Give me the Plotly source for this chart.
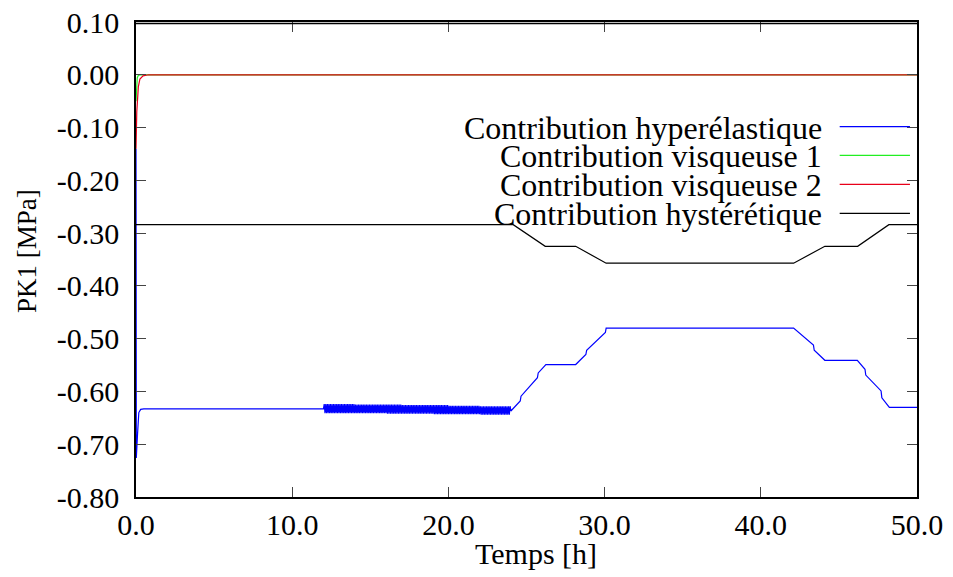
import plotly.graph_objects as go

# ---------------- data ----------------
hyper_t_start = [0.0, 0.02, 0.1, 0.18, 0.3, 0.5, 12.0]
hyper_y_start = [-0.14, -0.726, -0.68, -0.64, -0.634, -0.633, -0.633]

osc_t = [12.05, 12.10, 12.15, 12.20, 12.25, 12.30, 12.35, 12.40, 12.45, 12.50, 12.55, 12.60, 12.65, 12.70, 12.75, 12.80, 12.85, 12.90, 12.95, 13.00,
         13.05, 13.10, 13.15, 13.20, 13.25, 13.30, 13.35, 13.40, 13.45, 13.50, 13.55, 13.60, 13.65, 13.70, 13.75, 13.80, 13.85, 13.90, 13.95, 14.00,
         14.05, 14.10, 14.15, 14.20, 14.25, 14.30, 14.35, 14.40, 14.45, 14.50, 14.55, 14.60, 14.65, 14.70, 14.75, 14.80, 14.85, 14.90, 14.95, 15.00,
         15.05, 15.10, 15.15, 15.20, 15.25, 15.30, 15.35, 15.40, 15.45, 15.50, 15.55, 15.60, 15.65, 15.70, 15.75, 15.80, 15.85, 15.90, 15.95, 16.00,
         16.05, 16.10, 16.15, 16.20, 16.25, 16.30, 16.35, 16.40, 16.45, 16.50, 16.55, 16.60, 16.65, 16.70, 16.75, 16.80, 16.85, 16.90, 16.95, 17.00,
         17.05, 17.10, 17.15, 17.20, 17.25, 17.30, 17.35, 17.40, 17.45, 17.50, 17.55, 17.60, 17.65, 17.70, 17.75, 17.80, 17.85, 17.90, 17.95, 18.00,
         18.05, 18.10, 18.15, 18.20, 18.25, 18.30, 18.35, 18.40, 18.45, 18.50, 18.55, 18.60, 18.65, 18.70, 18.75, 18.80, 18.85, 18.90, 18.95, 19.00,
         19.05, 19.10, 19.15, 19.20, 19.25, 19.30, 19.35, 19.40, 19.45, 19.50, 19.55, 19.60, 19.65, 19.70, 19.75, 19.80, 19.85, 19.90, 19.95, 20.00,
         20.05, 20.10, 20.15, 20.20, 20.25, 20.30, 20.35, 20.40, 20.45, 20.50, 20.55, 20.60, 20.65, 20.70, 20.75, 20.80, 20.85, 20.90, 20.95, 21.00,
         21.05, 21.10, 21.15, 21.20, 21.25, 21.30, 21.35, 21.40, 21.45, 21.50, 21.55, 21.60, 21.65, 21.70, 21.75, 21.80, 21.85, 21.90, 21.95, 22.00,
         22.05, 22.10, 22.15, 22.20, 22.25, 22.30, 22.35, 22.40, 22.45, 22.50, 22.55, 22.60, 22.65, 22.70, 22.75, 22.80, 22.85, 22.90, 22.95, 23.00,
         23.05, 23.10, 23.15, 23.20, 23.25, 23.30, 23.35, 23.40, 23.45, 23.50, 23.55, 23.60, 23.65, 23.70, 23.75, 23.80, 23.85, 23.90, 23.95]
osc_y = [-0.624, -0.641, -0.624, -0.641, -0.624, -0.641, -0.624, -0.641, -0.624, -0.641, -0.624, -0.641, -0.624, -0.641, -0.624, -0.641, -0.624, -0.641, -0.624, -0.641,
         -0.624, -0.641, -0.624, -0.641, -0.624, -0.641, -0.624, -0.641, -0.624, -0.641, -0.624, -0.641, -0.624, -0.641, -0.624, -0.641, -0.624, -0.641, -0.624, -0.641,
         -0.625, -0.641, -0.625, -0.641, -0.625, -0.641, -0.625, -0.641, -0.625, -0.641, -0.625, -0.641, -0.625, -0.641, -0.625, -0.641, -0.625, -0.641, -0.625, -0.641,
         -0.625, -0.641, -0.625, -0.641, -0.625, -0.641, -0.625, -0.641, -0.625, -0.641, -0.625, -0.641, -0.625, -0.641, -0.625, -0.641, -0.625, -0.641, -0.625, -0.641,
         -0.625, -0.642, -0.625, -0.642, -0.625, -0.642, -0.625, -0.642, -0.625, -0.642, -0.625, -0.642, -0.625, -0.642, -0.625, -0.642, -0.625, -0.642, -0.625, -0.642,
         -0.626, -0.642, -0.626, -0.642, -0.626, -0.642, -0.626, -0.642, -0.626, -0.642, -0.626, -0.642, -0.626, -0.642, -0.626, -0.642, -0.626, -0.642, -0.626, -0.642,
         -0.626, -0.642, -0.626, -0.642, -0.626, -0.642, -0.626, -0.642, -0.626, -0.642, -0.626, -0.642, -0.626, -0.642, -0.626, -0.642, -0.626, -0.642, -0.626, -0.642,
         -0.626, -0.643, -0.626, -0.643, -0.626, -0.643, -0.626, -0.643, -0.626, -0.643, -0.626, -0.643, -0.626, -0.643, -0.626, -0.643, -0.626, -0.643, -0.626, -0.643,
         -0.627, -0.643, -0.627, -0.643, -0.627, -0.643, -0.627, -0.643, -0.627, -0.643, -0.627, -0.643, -0.627, -0.643, -0.627, -0.643, -0.627, -0.643, -0.627, -0.643,
         -0.627, -0.643, -0.627, -0.643, -0.627, -0.643, -0.627, -0.643, -0.627, -0.643, -0.627, -0.643, -0.627, -0.643, -0.627, -0.643, -0.627, -0.643, -0.627, -0.643,
         -0.628, -0.644, -0.628, -0.644, -0.628, -0.644, -0.628, -0.644, -0.628, -0.644, -0.628, -0.644, -0.628, -0.644, -0.628, -0.644, -0.628, -0.644, -0.628, -0.644,
         -0.628, -0.644, -0.628, -0.644, -0.628, -0.644, -0.628, -0.644, -0.628, -0.644, -0.628, -0.644, -0.628, -0.644, -0.628, -0.644, -0.628, -0.644, -0.628]

hyper_t_end = [24.0, 24.6, 24.65, 25.7, 25.75, 26.24, 28.15, 28.8, 28.85, 30.05, 30.1,
               42.1, 43.37, 43.42, 44.1, 46.18, 46.67, 46.72, 47.7, 47.75, 48.23, 50.0]
hyper_y_end = [-0.637, -0.618, -0.609, -0.574, -0.565, -0.549, -0.549, -0.530, -0.522, -0.488, -0.480,
               -0.480, -0.512, -0.522, -0.541, -0.541, -0.558, -0.569, -0.599, -0.612, -0.630, -0.630]

visc1_t = [0.0, 0.03, 0.08, 0.15, 0.3, 50.0]
visc1_y = [-0.05, -0.02, -0.006, -0.001, 0.0, 0.0]

visc2_t = [0.0, 0.05, 0.15, 0.25, 0.45, 0.8, 50.0]
visc2_y = [-0.14, -0.07, -0.023, -0.008, -0.002, 0.0, 0.0]

hyst_t = [0.0, 24.15, 26.2, 28.15, 30.1, 42.1, 44.1, 46.2, 48.2, 50.0]
hyst_y = [-0.284, -0.284, -0.325, -0.325, -0.357, -0.357, -0.325, -0.325, -0.284, -0.284]

series_names = ["Contribution hyperélastique", "Contribution visqueuse 1",
                "Contribution visqueuse 2", "Contribution hystérétique"]
series_colors = ["#0000ff", "#22ee22", "#e8001a", "#000000"]

x_tickvals = [0, 10, 20, 30, 40, 50]
x_ticktext = ["0.0", "10.0", "20.0", "30.0", "40.0", "50.0"]
y_tickvals = [0.1, 0.0, -0.1, -0.2, -0.3, -0.4, -0.5, -0.6, -0.7, -0.8]
y_ticktext = ["0.10", "0.00", "-0.10", "-0.20", "-0.30", "-0.40", "-0.50", "-0.60", "-0.70", "-0.80"]

x_title = "Temps [h]"
y_title = "PK1 [MPa]"

# ---------------- figure ----------------
FONT = "Liberation Serif, Times New Roman, serif"
fig = go.Figure()

hyper_t = hyper_t_start + osc_t + hyper_t_end
hyper_y = hyper_y_start + osc_y + hyper_y_end
data = [(hyper_t, hyper_y), (visc1_t, visc1_y), (visc2_t, visc2_y), (hyst_t, hyst_y)]
for (tx, ty), name, col in zip(data, series_names, series_colors):
    fig.add_trace(go.Scatter(x=tx, y=ty, mode="lines", name=name,
                             line=dict(color=col, width=1.2), showlegend=False))

# manual gnuplot-style legend (text left, sample right)
leg_y = [0.7796, 0.7194, 0.6583, 0.5973]
for name, col, ly in zip(series_names, series_colors, leg_y):
    fig.add_annotation(x=0.881, y=ly - 0.002, xref="paper", yref="paper", text=name,
                       showarrow=False, xanchor="right", yanchor="middle",
                       font=dict(family=FONT, size=32, color="black"))
    fig.add_shape(type="line", xref="paper", yref="paper",
                  x0=0.901, x1=0.991, y0=ly, y1=ly,
                  line=dict(color=col, width=1.2))

# top border of the frame, drawn explicitly
fig.add_shape(type="line", xref="paper", yref="paper", x0=0, x1=1, y0=0.997, y1=0.997,
              line=dict(color="black", width=1.6), layer="above")

# axis titles
fig.add_annotation(x=0.512, y=-0.118, xref="paper", yref="paper", text=x_title,
                   showarrow=False, xanchor="center", yanchor="middle",
                   font=dict(family=FONT, size=30, color="black"))
fig.add_annotation(x=-0.1396, y=0.518, xref="paper", yref="paper", text=y_title,
                   showarrow=False, xanchor="center", yanchor="middle", textangle=-90,
                   font=dict(family=FONT, size=27, color="black"))

fig.update_xaxes(range=[0, 50], tickvals=x_tickvals, ticktext=x_ticktext,
                 ticks="inside", ticklen=10, tickcolor="#444", mirror="allticks",
                 showline=True, linecolor="black", linewidth=1.5,
                 showgrid=False, zeroline=False, automargin=False,
                 ticklabeloverflow="allow",
                 tickfont=dict(family=FONT, size=30, color="black"))
fig.update_yaxes(range=[-0.8, 0.1], tickvals=y_tickvals, ticktext=y_ticktext,
                 ticks="inside", ticklen=10, tickcolor="#444", mirror="allticks",
                 showline=True, linecolor="black", linewidth=1.5,
                 showgrid=False, zeroline=False, automargin=False,
                 ticklabelstandoff=9, ticklabeloverflow="allow",
                 tickfont=dict(family=FONT, size=30, color="black"))

# page body has an 8px margin: offset the plot area accordingly
fig.update_layout(width=953, height=577, plot_bgcolor="white", paper_bgcolor="white",
                  margin=dict(l=128, r=44, t=14, b=88), showlegend=False)

fig.write_html("out.html")
